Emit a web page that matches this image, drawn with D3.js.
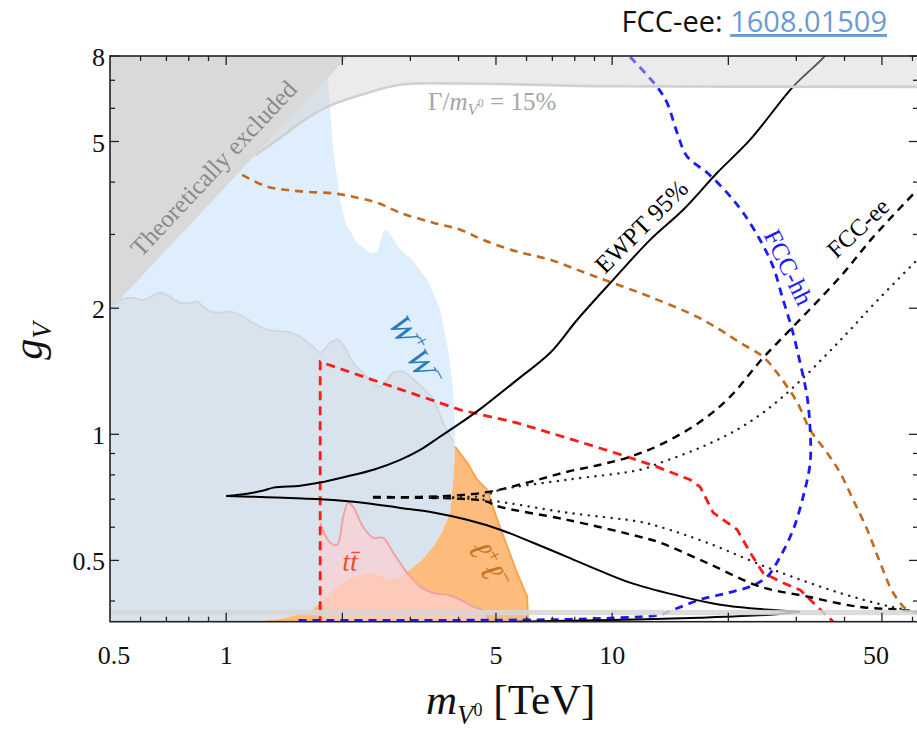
<!DOCTYPE html>
<html><head><meta charset="utf-8">
<script src="https://cdn.jsdelivr.net/npm/d3@7"></script>
<style>
body{margin:0;background:#fff;}
svg{display:block;font-family:"Liberation Serif","DejaVu Serif",serif;}
</style>
</head><body>
<svg id="c" width="917" height="735"></svg>
<script>
// ---------------- data (m in TeV, g_V) ----------------
const X_DOMAIN = [0.5, 62];
const Y_DOMAIN = [0.357, 8];
const xTickLabels = [0.5, 1, 5, 10, 50];
const xMajorTicks = [1, 2, 5, 10, 20, 50];
const xMinorTicks = [0.6, 0.7, 0.8, 0.9, 3, 4, 6, 7, 8, 9, 30, 40, 60];
const yTickLabels = [0.5, 1, 2, 5, 8];
const yMajorTicks = [0.5, 1, 2, 5, 8];
const yMinorTicks = [0.4, 0.6, 0.7, 0.8, 0.9, 3, 4, 6, 7];

const theoryLine = [[0.5, 1.98], [2.07, 8]];
const widthCurve = [[1.19,4.64],[1.38,5.10],[1.555,5.54],[1.827,6.05],[2.319,6.53],[2.824,6.83],[4.04,6.88],[9.31,6.78],[62,6.75]];
const bottomBand = [0.370, 0.381];

const wwRight = [[1.837,8],[1.837,6.90],[1.893,4.78],[1.974,3.63],[2.034,3.20],[2.185,2.86],[2.361,2.71],[2.462,2.73],[2.551,3.04],[2.613,3.08],[2.824,2.76],[3.033,2.61],[3.317,2.338],[3.585,1.982],[3.759,1.59],[3.874,1.277],[3.92,1.025],[3.92,0.934]];
const wwEdge = [[3.92,0.934],[3.874,0.779],[3.805,0.650],[3.628,0.585],[3.438,0.539],[3.220,0.502],[2.996,0.475],[2.824,0.457],[2.613,0.449],[2.506,0.462],[2.319,0.467],[2.058,0.449],[1.893,0.425],[1.752,0.396],[1.651,0.377],[1.380,0.363],[1.0,0.35]];
const grayTop = [[0.5,2.004],[0.531,2.094],[0.574,2.117],[0.610,2.094],[0.675,2.177],[0.716,2.130],[0.760,2.060],[0.807,2.060],[0.841,2.072],[0.893,1.982],[0.948,1.950],[1.024,1.961],[1.087,1.928],[1.175,1.845],[1.277,1.776],[1.439,1.757],[1.555,1.708],[1.680,1.618],[1.752,1.565],[1.859,1.654],[1.940,1.681],[2.010,1.635],[2.133,1.481],[2.319,1.371],[2.506,1.298],[2.707,1.402],[2.874,1.410],[3.125,1.327],[3.438,1.21],[3.650,1.065],[3.874,0.96]];
const llRight = [[3.92,0.934],[4.21,0.855],[4.47,0.779],[4.745,0.737],[5.04,0.625],[5.35,0.539],[5.67,0.467],[6.02,0.410],[6.06,0.35]];
const ttTop = [[1.752,0.615],[1.859,0.551],[1.940,0.545],[2.010,0.636],[2.071,0.686],[2.133,0.671],[2.264,0.601],[2.404,0.566],[2.551,0.566],[2.707,0.522],[2.944,0.467],[3.181,0.433],[3.438,0.418],[3.737,0.414],[4.04,0.403],[4.364,0.388],[4.688,0.377],[4.83,0.35]];

const redLine = [[1.752,0.35],[1.752,1.489],[4.04,1.144],[5.67,1.065],[8.41,0.954],[10.94,0.884],[13.08,0.836],[15.92,0.779],[16.9,0.749],[18.27,0.650],[19.4,0.625],[21.08,0.592],[22.78,0.522],[24.6,0.467],[27.7,0.442],[30.7,0.425],[33.97,0.388],[37.4,0.357]];
const brownLine = [[1.100,4.16],[1.277,3.90],[1.439,3.83],[1.621,3.79],[1.893,3.76],[2.133,3.69],[2.462,3.57],[2.824,3.38],[3.438,3.20],[4.04,3.08],[4.633,2.91],[5.67,2.73],[6.91,2.61],[8.41,2.44],[9.88,2.31],[12.54,2.13],[16.6,1.907],[19.05,1.776],[21.46,1.654],[24.61,1.531],[27.24,1.371],[30.2,1.189],[32.58,1.025],[36.06,0.903],[38.97,0.809],[42.1,0.698],[45.8,0.592],[49.5,0.493],[53.5,0.418],[58.1,0.381],[61.7,0.375]];
const fcchhLine = [[11.13,7.96],[13.08,6.75],[13.88,6.18],[14.74,5.24],[15.65,4.60],[17.63,4.21],[19.86,3.77],[21.85,3.38],[24.17,2.91],[26.13,2.51],[27.73,2.094],[29.27,1.776],[30.69,1.481],[32.0,1.229],[32.58,1.025],[32.58,0.855],[31.24,0.709],[29.44,0.592],[27.24,0.510],[25.2,0.457],[22.78,0.433],[19.86,0.418],[16.9,0.403],[14.39,0.381],[13.32,0.371],[10.49,0.365],[6.91,0.361],[1.527,0.3594]];
const ewptUpper = [[1.0,0.712],[1.131,0.721],[1.249,0.734],[1.326,0.746],[1.555,0.754],[1.752,0.767],[2.054,0.793],[2.408,0.823],[2.824,0.869],[3.18,0.918],[3.585,0.988],[4.04,1.063],[4.63,1.163],[5.67,1.349],[6.91,1.565],[8.12,1.877],[10.06,2.338],[12.54,2.912],[15.28,3.435],[18.71,4.21],[22.78,5.05],[29.4,6.75],[35.2,7.92],[37,8.4]];
const ewptLower = [[1.0,0.712],[1.275,0.708],[1.752,0.700],[2.315,0.685],[2.824,0.667],[3.44,0.651],[4.21,0.625],[5.13,0.592],[6.24,0.551],[7.64,0.510],[9.31,0.472],[11.33,0.440],[15.28,0.409],[19.05,0.392],[25.7,0.381],[30.7,0.377]];
const ewptReturn = [[30.7,0.377],[25.7,0.371],[16.9,0.365],[9.31,0.360],[5.67,0.357]];
const fcceeUpperDashed = [[2.40,0.709],[3.18,0.709],[4.63,0.725],[6.13,0.770],[7.65,0.814],[9.31,0.846],[11.13,0.884],[13.32,0.944],[16.9,1.071],[20.2,1.229],[24.6,1.522],[28.9,1.776],[38.97,2.376],[47.5,2.96],[61.7,3.83]];
const fcceeUpperDotted = [[3.38,0.709],[4.63,0.713],[5.13,0.737],[7.65,0.779],[11.82,0.823],[13.32,0.855],[16.9,0.929],[21.46,1.036],[26.13,1.176],[30.7,1.342],[36.06,1.556],[41.37,1.776],[47.46,2.038],[61.7,2.609]];
const fcceeLowerDotted = [[3.38,0.706],[4.63,0.698],[7.65,0.650],[11.82,0.618],[13.32,0.601],[17.63,0.551],[26.13,0.475],[38.97,0.418],[52.5,0.388],[61.7,0.377]];
const fcceeLowerDashed = [[2.40,0.706],[4.63,0.694],[5.13,0.671],[7.65,0.625],[11.82,0.569],[13.32,0.551],[17.63,0.493],[24.17,0.433],[32.0,0.410],[43.1,0.388],[55.7,0.381],[61.7,0.377]];

// ---------------- drawing ----------------
const svg = d3.select("#c");
const x = d3.scaleLog().domain(X_DOMAIN).range([110, 918]);
const y = d3.scaleLog().domain(Y_DOMAIN).range([621.7, 56]);
const L = x.range()[0], R = x.range()[1], T = y.range()[1], B = y.range()[0];

svg.append("defs").append("clipPath").attr("id","clip")
  .append("rect").attr("x",L).attr("y",T).attr("width",R-L).attr("height",B-T);
const g = svg.append("g").attr("clip-path","url(#clip)");

const poly = d3.line().x(d=>x(d[0])).y(d=>y(d[1])).curve(d3.curveLinearClosed);
const lin = d3.line().x(d=>x(d[0])).y(d=>y(d[1]));
const smooth = d3.line().x(d=>x(d[0])).y(d=>y(d[1])).curve(d3.curveCatmullRom.alpha(0.5));
const yLo = 0.34, yHi = 9;

// W+W- region
g.append("path").attr("d", poly([[0.5,yLo],[0.5,yHi],[1.837,yHi], ...wwRight, ...wwEdge]))
  .attr("fill","#dfeefc");
// inner grey region
g.append("path").attr("d", poly([...grayTop, ...wwEdge, [0.5,yLo]]))
  .attr("fill","#cfd4d8").attr("fill-opacity",0.42);
g.append("path").attr("d", smooth(grayTop)).attr("fill","none").attr("stroke","#d3d7db").attr("stroke-width",2);
// l+l- region
g.append("path").attr("d", poly([...wwEdge.slice().reverse(), ...llRight]))
  .attr("fill","#fdbb7c");
g.append("path").attr("d", lin(llRight)).attr("fill","none").attr("stroke","#f8a44c").attr("stroke-width",2);
// ttbar region
g.append("path").attr("d", poly([[1.752,yLo], ...ttTop]))
  .attr("fill","#fcd0d2").attr("fill-opacity",0.72);
g.append("path").attr("d", smooth(ttTop)).attr("fill","none").attr("stroke","#f2a2a4").attr("stroke-width",2);

// lines
g.append("path").attr("d", smooth(brownLine)).attr("fill","none").attr("stroke","#bf6a1c").attr("stroke-width",2.6).attr("stroke-dasharray","8,6");
g.append("path").attr("d", lin(redLine)).attr("fill","none").attr("stroke","#ff1a1a").attr("stroke-width",2.8).attr("stroke-dasharray","9,6");
g.append("path").attr("d", smooth(fcchhLine)).attr("fill","none").attr("stroke","#1a1aff").attr("stroke-width",2.8).attr("stroke-dasharray","8,6");
[ewptUpper, ewptLower, ewptReturn].forEach(s=>
  g.append("path").attr("d", smooth(s)).attr("fill","none").attr("stroke","#000").attr("stroke-width",2));
[fcceeUpperDashed, fcceeLowerDashed].forEach(s=>
  g.append("path").attr("d", smooth(s)).attr("fill","none").attr("stroke","#000").attr("stroke-width",2.4).attr("stroke-dasharray","8,6"));
[fcceeUpperDotted, fcceeLowerDotted].forEach(s=>
  g.append("path").attr("d", smooth(s)).attr("fill","none").attr("stroke","#222").attr("stroke-width",2.4)
   .attr("stroke-linecap","round").attr("stroke-dasharray","0.1,7.5"));

// width band Gamma/m = 15%
g.append("path").attr("d", poly([...widthCurve, [62,yHi],[1.19,yHi]]))
  .attr("fill","#cfcfcf").attr("fill-opacity",0.42);
g.append("path").attr("d", smooth(widthCurve)).attr("fill","none").attr("stroke","#d0d0d0").attr("stroke-width",2.6);
// bottom band
g.append("rect").attr("x",L).attr("width",R-L).attr("y",y(bottomBand[1])).attr("height",y(bottomBand[0])-y(bottomBand[1]))
  .attr("fill","#d6d6d6").attr("fill-opacity",0.85);
// theoretically excluded
g.append("path").attr("d", poly([...theoryLine,[0.5,yHi],[0.4,yHi]]))
  .attr("fill","#d9d9d9");

// ---------------- labels inside ----------------
function rotText(cx, cy, ang, size, color, parts, italic){
  const t = svg.append("text").attr("transform",`translate(${cx},${cy}) rotate(${ang})`)
    .attr("text-anchor","middle").attr("dominant-baseline","central")
    .attr("font-size",size).attr("fill",color);
  if (italic) t.attr("font-style","italic");
  parts.forEach(p=>{
    const s = t.append("tspan").text(p.t);
    if (p.s) s.attr("font-size",p.s);
    if (p.dy) s.attr("dy",p.dy);
    if (p.it!==undefined) s.attr("font-style",p.it?"italic":"normal");
  });
  return t;
}
rotText(213, 168, -46.8, 25, "#8a8a8a", [{t:"Theoretically excluded"}]);
rotText(641, 226, -45, 25, "#000", [{t:"EWPT 95%"}]);
rotText(858, 228, -43, 24, "#000", [{t:"FCC-ee"}]);
rotText(789, 267, 64, 25, "#1a1aff", [{t:"FCC-hh"}]);
rotText(415, 351, 62, 32, "#2a7ab8", [{t:"W",it:true},{t:"+",s:20,dy:-11,it:false},{t:"W",s:32,dy:11,it:true},{t:"\u2212",s:20,dy:-11,it:false}]);
rotText(489, 565, 62, 32, "#c8701e", [{t:"\u2113",it:true},{t:"+",s:20,dy:-10,it:false},{t:"\u2113",s:32,dy:10,it:true},{t:"\u2212",s:20,dy:-10,it:false}]);
svg.append("text").attr("x",350).attr("y",571).attr("text-anchor","middle").attr("font-size",28)
  .attr("font-style","italic").attr("fill","#e6522e").text("tt\u0304");

const gl = svg.append("text").attr("x",428).attr("y",110).attr("font-size",25).attr("fill","#a5a5a5");
gl.append("tspan").text("\u0393/");
gl.append("tspan").attr("font-style","italic").text("m");
gl.append("tspan").attr("font-style","italic").attr("font-size",17).attr("dy",5).text("V");
gl.append("tspan").attr("font-size",12).attr("dy",-8).text("0");
gl.append("tspan").attr("dy",3).text(" = 15%");

// ---------------- axes ----------------
const ax = svg.append("g").attr("stroke","#222").attr("stroke-width",1.3);
ax.append("rect").attr("x",L).attr("y",T).attr("width",R-L).attr("height",B-T).attr("fill","none").attr("stroke-width",1.6);
const tick = (v, len, horiz) => {
  if (horiz) {
    const px = x(v);
    ax.append("line").attr("x1",px).attr("x2",px).attr("y1",B).attr("y2",B-len);
    ax.append("line").attr("x1",px).attr("x2",px).attr("y1",T).attr("y2",T+len);
  } else {
    const py = y(v);
    ax.append("line").attr("y1",py).attr("y2",py).attr("x1",L).attr("x2",L+len);
    ax.append("line").attr("y1",py).attr("y2",py).attr("x1",R).attr("x2",R-len);
  }
};
xMajorTicks.forEach(v=>tick(v,9,true));
xMinorTicks.forEach(v=>tick(v,5,true));
yMajorTicks.forEach(v=>tick(v,9,false));
yMinorTicks.forEach(v=>tick(v,5,false));

const fmt = v => String(v);
const xOff = {0.5:4, 50:-6};
svg.append("g").selectAll("text").data(xTickLabels).join("text")
  .attr("x",d=>x(d)+(xOff[d]||0)).attr("y",664).attr("text-anchor","middle")
  .attr("font-size",26).attr("fill","#111").text(fmt);
svg.append("g").selectAll("text").data(yTickLabels).join("text")
  .attr("x",105).attr("y",d=>y(d)+10).attr("text-anchor","end")
  .attr("font-size",26).attr("fill","#111").text(fmt);

// axis titles
const xt = svg.append("text").attr("x",426).attr("y",714).attr("font-size",43).attr("fill","#111");
xt.append("tspan").attr("font-style","italic").text("m");
xt.append("tspan").attr("font-style","italic").attr("font-size",27).attr("dy",10).text("V");
xt.append("tspan").attr("font-size",18).attr("dy",-8).text("0");
xt.append("tspan").attr("dy",-2).text(" [TeV]");

const yt = svg.append("text").attr("transform","translate(42,341) rotate(-90)").attr("text-anchor","middle")
  .attr("font-size",42).attr("fill","#111");
yt.append("tspan").attr("font-style","italic").text("g");
yt.append("tspan").attr("font-style","italic").attr("font-size",27).attr("dy",9).text("V");

// header
const hd = svg.append("text").attr("x",887).attr("y",32).attr("text-anchor","end")
  .attr("font-family","'Open Sans', sans-serif").attr("font-size",29);
hd.append("tspan").attr("fill","#111").text("FCC-ee: ");
hd.append("tspan").attr("fill","#6a9bd3").attr("text-decoration","underline").text("1608.01509");
</script>
</body></html>
